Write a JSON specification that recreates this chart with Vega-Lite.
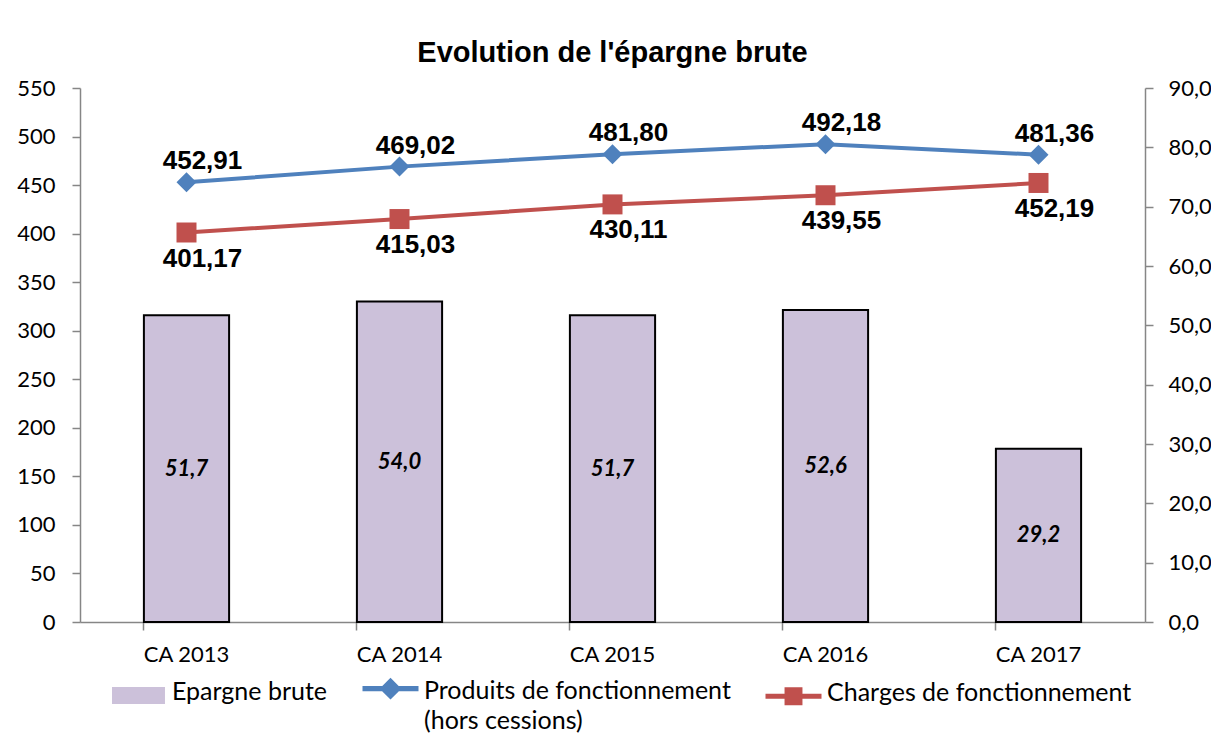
{
  "$schema": "https://vega.github.io/schema/vega-lite/v6.json",
  "width": 1065,
  "height": 534,
  "autosize": {"type": "none"},
  "padding": {"left": 80, "top": 88, "right": 66, "bottom": 131},
  "background": "white",
  "title": {"text": "Evolution de l'épargne brute", "font": "Liberation Sans", "fontSize": 29, "fontWeight": "bold", "color": "black", "anchor": "middle", "offset": 9},
  "config": {
    "locale": {"number": {"decimal": ",", "thousands": " ", "grouping": [3], "currency": ["", " €"]}},
    "view": {"stroke": null},
    "axis": {"labelFont": "Lato", "labelFontSize": 22, "labelColor": "black", "domainColor": "#868686", "tickColor": "#868686", "domainWidth": 1.5, "tickWidth": 1.5, "tickSize": 8, "grid": false, "title": null},
    "legend": {
      "orient": "none", "legendX": 46, "legendY": 568, "padding": 0, "direction": "horizontal", "title": null,
      "labelFont": "Lato", "labelFontSize": 25, "labelColor": "black", "labelBaseline": "top",
      "symbolSize": 3136, "columnPadding": 34, "labelOffset": 21, "labelLimit": 600
    }
  },
  "datasets": {
    "bars": [
      {"annee": "CA 2013", "epargne": 51.7},
      {"annee": "CA 2014", "epargne": 54.0},
      {"annee": "CA 2015", "epargne": 51.7},
      {"annee": "CA 2016", "epargne": 52.6},
      {"annee": "CA 2017", "epargne": 29.2}
    ],
    "lines": [
      {"annee": "CA 2013", "serie": "Produits de fonctionnement (hors cessions)", "valeur": 452.91},
      {"annee": "CA 2014", "serie": "Produits de fonctionnement (hors cessions)", "valeur": 469.02},
      {"annee": "CA 2015", "serie": "Produits de fonctionnement (hors cessions)", "valeur": 481.80},
      {"annee": "CA 2016", "serie": "Produits de fonctionnement (hors cessions)", "valeur": 492.18},
      {"annee": "CA 2017", "serie": "Produits de fonctionnement (hors cessions)", "valeur": 481.36},
      {"annee": "CA 2013", "serie": "Charges de fonctionnement", "valeur": 401.17},
      {"annee": "CA 2014", "serie": "Charges de fonctionnement", "valeur": 415.03},
      {"annee": "CA 2015", "serie": "Charges de fonctionnement", "valeur": 430.11},
      {"annee": "CA 2016", "serie": "Charges de fonctionnement", "valeur": 439.55},
      {"annee": "CA 2017", "serie": "Charges de fonctionnement", "valeur": 452.19}
    ]
  },
  "encoding": {
    "x": {
      "field": "annee", "type": "nominal", "sort": null,
      "scale": {"paddingInner": 0.6, "paddingOuter": 0.3},
      "axis": {"bandPosition": 0, "labelPadding": 14, "labelAngle": 0}
    }
  },
  "layer": [
    {
      "data": {"name": "bars"},
      "transform": [{"calculate": "datum.epargne / 2", "as": "milieu"}],
      "layer": [
        {
          "mark": {"type": "bar", "fill": "#CCC1DA", "stroke": "black", "strokeWidth": 2},
          "encoding": {
            "y": {"field": "epargne", "type": "quantitative", "scale": {"domain": [0, 90], "nice": false},
                  "axis": {"orient": "right", "values": [0, 10, 20, 30, 40, 50, 60, 70, 80, 90], "format": ".1f", "labelPadding": 15}},
            "color": {"datum": "Epargne brute", "type": "nominal",
                      "scale": {"domain": ["Epargne brute", "Produits de fonctionnement (hors cessions)", "Charges de fonctionnement"], "range": ["#CCC1DA", "#4F81BD", "#C0504D"]},
                      "legend": {
                        "title": null,
                        "labelExpr": "datum.label == 'Produits de fonctionnement (hors cessions)' ? ['Produits de fonctionnement', '(hors cessions)'] : datum.label",
                        "encode": {
                          "labels": {"update": {"dy": {"signal": "datum.value == 'Produits de fonctionnement (hors cessions)' ? 10 : -15"}, "lineHeight": {"value": 30}}},
                          "symbols": {"update": {
                            "shape": {"signal": "datum.value == 'Epargne brute' ? 'M-0.91,-0.27H0.91V0.27H-0.91Z' : (datum.value == 'Charges de fonctionnement' ? 'M-1,-0.09H1V0.09H-1Z M-0.32,-0.32H0.32V0.32H-0.32Z' : 'M-1,0.62H1V0.8H-1Z M0,0.32L0.39,0.71L0,1.1L-0.39,0.71Z')"},
                            "fill": {"signal": "datum.value == 'Epargne brute' ? '#CCC1DA' : (datum.value == 'Charges de fonctionnement' ? '#C0504D' : '#4F81BD')"},
                            "stroke": {"signal": "datum.value == 'Epargne brute' ? 'black' : 'transparent'"},
                            "strokeWidth": {"signal": "datum.value == 'Epargne brute' ? 2 : 0"},
                            "strokeOpacity": {"value": 1},
                            "opacity": {"value": 1},
                            "fillOpacity": {"value": 1}
                          }}
                        }
                      }}
          }
        },
        {
          "mark": {"type": "text", "font": "Lato", "fontStyle": "italic", "fontWeight": "bold", "fontSize": 22, "color": "black", "baseline": "middle"},
          "encoding": {
            "y": {"field": "milieu", "type": "quantitative"},
            "text": {"field": "epargne", "type": "quantitative", "format": ".1f"}
          }
        }
      ]
    },
    {
      "data": {"name": "lines"},
      "layer": [
        {
          "mark": {"type": "line", "strokeWidth": 4},
          "encoding": {
            "y": {"field": "valeur", "type": "quantitative", "scale": {"domain": [0, 550], "nice": false},
                  "axis": {"orient": "left", "values": [0, 50, 100, 150, 200, 250, 300, 350, 400, 450, 500, 550], "format": "d", "labelPadding": 17}},
            "color": {"field": "serie", "type": "nominal",
                      "scale": {"domain": ["Epargne brute", "Produits de fonctionnement (hors cessions)", "Charges de fonctionnement"], "range": ["#CCC1DA", "#4F81BD", "#C0504D"]},
                      "legend": {
                        "title": null,
                        "labelExpr": "datum.label == 'Produits de fonctionnement (hors cessions)' ? ['Produits de fonctionnement', '(hors cessions)'] : datum.label",
                        "encode": {
                          "labels": {"update": {"dy": {"signal": "datum.value == 'Produits de fonctionnement (hors cessions)' ? 10 : -15"}, "lineHeight": {"value": 30}}},
                          "symbols": {"update": {
                            "shape": {"signal": "datum.value == 'Epargne brute' ? 'M-0.91,-0.27H0.91V0.27H-0.91Z' : (datum.value == 'Charges de fonctionnement' ? 'M-1,-0.09H1V0.09H-1Z M-0.32,-0.32H0.32V0.32H-0.32Z' : 'M-1,0.62H1V0.8H-1Z M0,0.32L0.39,0.71L0,1.1L-0.39,0.71Z')"},
                            "fill": {"signal": "datum.value == 'Epargne brute' ? '#CCC1DA' : (datum.value == 'Charges de fonctionnement' ? '#C0504D' : '#4F81BD')"},
                            "stroke": {"signal": "datum.value == 'Epargne brute' ? 'black' : 'transparent'"},
                            "strokeWidth": {"signal": "datum.value == 'Epargne brute' ? 2 : 0"},
                            "strokeOpacity": {"value": 1},
                            "opacity": {"value": 1},
                            "fillOpacity": {"value": 1}
                          }}
                        }
                      }}
          }
        },
        {
          "mark": {"type": "point", "filled": true, "opacity": 1, "size": 400},
          "encoding": {
            "y": {"field": "valeur", "type": "quantitative"},
            "color": {"field": "serie", "type": "nominal", "legend": null},
            "shape": {"field": "serie", "type": "nominal", "scale": {"domain": ["Produits de fonctionnement (hors cessions)", "Charges de fonctionnement"], "range": ["diamond", "square"]}, "legend": null}
          }
        },
        {
          "transform": [{"filter": "datum.serie == 'Produits de fonctionnement (hors cessions)'"}],
          "mark": {"type": "text", "font": "Liberation Sans", "fontWeight": "bold", "fontSize": 26, "color": "black", "baseline": "middle", "dy": -21, "dx": 16},
          "encoding": {
            "y": {"field": "valeur", "type": "quantitative"},
            "text": {"field": "valeur", "type": "quantitative", "format": ".2f"}
          }
        },
        {
          "transform": [{"filter": "datum.serie == 'Charges de fonctionnement'"}],
          "mark": {"type": "text", "font": "Liberation Sans", "fontWeight": "bold", "fontSize": 26, "color": "black", "baseline": "middle", "dy": 26, "dx": 16},
          "encoding": {
            "y": {"field": "valeur", "type": "quantitative"},
            "text": {"field": "valeur", "type": "quantitative", "format": ".2f"}
          }
        }
      ]
    }
  ],
  "resolve": {"scale": {"y": "independent"}}
}
